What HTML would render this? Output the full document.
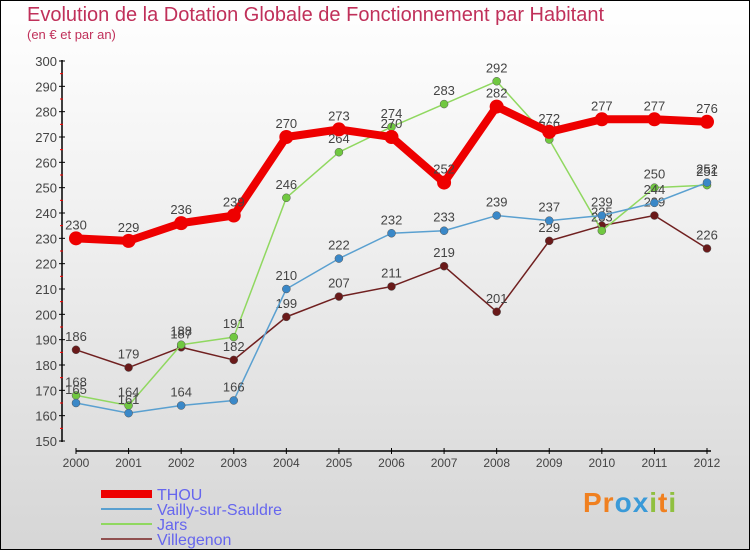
<!DOCTYPE html>
<html><head><meta charset="utf-8"><style>
body{margin:0}
#c{position:relative;width:748px;height:548px;border:1px solid #000;background:linear-gradient(#ffffff,#f0f0f0 40%,#d6d6d6);font-family:"Liberation Sans",sans-serif;overflow:hidden}
</style></head><body>
<div id="c">
<div style="position:absolute;left:26px;top:3px;font-size:20px;color:#c0305a;">Evolution de la Dotation Globale de Fonctionnement par Habitant</div>
<div style="position:absolute;left:26px;top:26px;font-size:13px;color:#c0305a;">(en € et par an)</div>
<svg id="s" width="748" height="548" style="position:absolute;left:0;top:0"></svg>
<div style="position:absolute;left:582px;top:486px;font-size:28px;font-weight:bold;color:#f08020;letter-spacing:1px">Pr<span style="color:#3a9ad8">o</span><span style="color:#3a9ad8">x</span><span style="color:#90c040">i</span>t<span style="color:#90c040">i</span></div>
</div>
<script>
const years=["2000","2001","2002","2003","2004","2005","2006","2007","2008","2009","2010","2011","2012"];
const thou=[230,229,236,239,270,273,270,252,282,272,277,277,276];
const vailly=[165,161,164,166,210,222,232,233,239,237,239,244,252];
const jars=[168,164,188,191,246,264,274,283,292,269,233,250,251];
const ville=[186,179,187,182,199,207,211,219,201,229,235,239,226];
const yTicks=[150,160,170,180,190,200,210,220,230,240,250,260,270,280,290,300];
const seriesNames=["THOU","Vailly-sur-Sauldre","Jars","Villegenon"];
const svg=document.getElementById('s');const NS='http://www.w3.org/2000/svg';
function X(i){return 75+i*(706-75)/12}
function Y(v){return 440-(v-150)*(380/150)}
function el(t,a,p){const e=document.createElementNS(NS,t);for(const k in a)e.setAttribute(k,a[k]);(p||svg).appendChild(e);return e}
let e;
e=el('line',{x1:61,y1:59,x2:61,y2:441,stroke:'#000','stroke-width':1.5});


e=el('line',{x1:75,y1:450,x2:710,y2:450,stroke:'#000','stroke-width':1.5});


yTicks.forEach((t,i)=>{
 const y=Y(t);
 el('line',{x1:58,x2:64,y1:y,y2:y,stroke:'#000'});
 if(i<yTicks.length-1)el('line',{x1:59,x2:62,y1:Y(t+5),y2:Y(t+5),stroke:'#f00'});
 e=el('text',{x:56,y:y+5,'text-anchor':'end','font-size':13,fill:'#444'});
 e.textContent=t;
 
 
});
years.forEach((yr,i)=>{
 el('line',{x1:X(i),x2:X(i),y1:447,y2:453,stroke:'#000'});
 e=el('text',{x:X(i),y:466,'text-anchor':'middle','font-size':12,fill:'#444'});
 e.textContent=yr;
 
 
});
const series=[[ville,'#702020',1.5,'#6a1a1a',4],[jars,'#90d860',1.5,'#70c840',4],[vailly,'#5aa0d0',1.5,'#3a88c8',4],[thou,'#ee0000',8,'#ee0000',7]];
series.forEach((s,si)=>{
 const [d,c,w,mc,r]=s;
 e=el('polyline',{points:d.map((v,i)=>X(i)+','+Y(v)).join(' '),fill:'none',stroke:c,'stroke-width':w,'stroke-linejoin':'round'});
 
 
 d.forEach((v,i)=>{
  e=el('circle',{cx:X(i),cy:Y(v),r:r,fill:mc,stroke:w>2?'none':'#555','stroke-width':0.5});
  
  
  e=el('text',{x:X(i),y:Y(v)-9,'text-anchor':'middle','font-size':13,fill:'#444'});
  e.textContent=v;
  
  
 });
});
const leg=[['#ee0000',8],['#5aa0d0',2],['#90d860',2],['#905050',2]];
leg.forEach((l,i)=>{
 const y=493+i*15;
 e=el('line',{x1:100,x2:151,y1:y,y2:y,stroke:l[0],'stroke-width':l[1]});
 
 
 e=el('text',{x:156,y:y+6,'font-size':16,fill:'#6666ee'});
 e.textContent=seriesNames[i];
 
 
});
</script>
</body></html>
